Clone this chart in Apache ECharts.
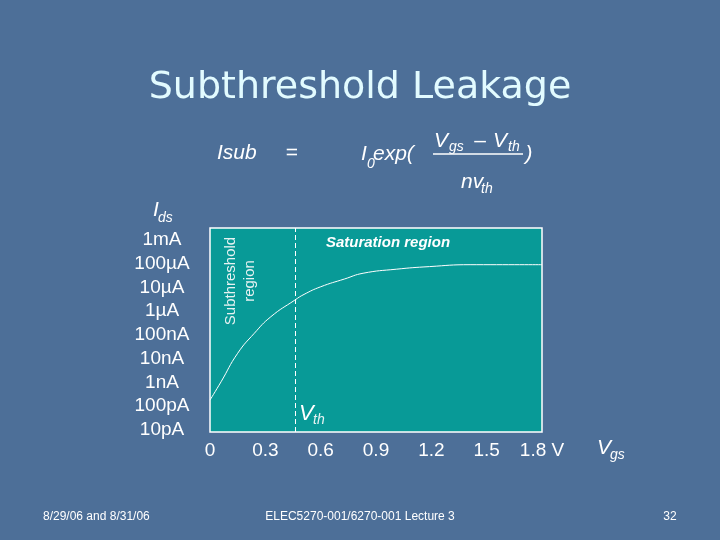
<!DOCTYPE html>
<html>
<head>
<meta charset="utf-8">
<script src="https://cdn.jsdelivr.net/npm/echarts@6/dist/echarts.min.js"></script>
<style>
html,body{margin:0;padding:0;background:#4d6f98;}
#chart{width:720px;height:540px;}
</style>
</head>
<body>
<div id="chart"></div>
<script>
// Gate voltage (V) sampled along the curve
const vgsValues = [0, 0.06, 0.15, 0.24, 0.33, 0.46, 0.51, 0.6, 0.73, 0.83, 1.01, 1.19, 1.41, 1.8];
// log10 of drain current (A)
const logIdsValues = [-9.74, -8.97, -7.77, -6.93, -6.23, -5.53, -5.29, -4.97, -4.64, -4.40, -4.23, -4.12, -4.04, -4.04];
const xTickLabels = ['0', '0.3', '0.6', '0.9', '1.2', '1.5', '1.8 V'];
const yTickLabels = ['10pA', '100pA', '1nA', '10nA', '100nA', '1µA', '10µA', '100µA', '1mA'];
const vthValue = 0.46;

const chart = echarts.init(document.getElementById('chart'));
const SANS = 'Liberation Sans, Arial, sans-serif';

function txt(text, x, y, font, opts) {
  opts = opts || {};
  return {
    type: 'text', x: x, y: y, rotation: opts.rotation || 0, silent: true, z: 100,
    style: Object.assign({
      text: text, font: font, fill: opts.fill || '#ffffff',
      align: opts.align || 'center', verticalAlign: opts.va || 'middle'
    }, opts.style || {})
  };
}

const graphics = [
  // title
  txt('Subthreshold Leakage', 360, 88, '38px "DejaVu Sans", Verdana, sans-serif', {
    fill: '#e2fbff',
    style: {shadowColor: 'rgba(25,35,60,0.85)', shadowOffsetX: 2, shadowOffsetY: 2, shadowBlur: 1}
  }),
  // formula
  txt('Isub', 217, 153, 'italic 21px ' + SANS, {align: 'left'}),
  txt('=', 292, 153, '21px ' + SANS),
  txt('I', 361, 154, 'italic 21px ' + SANS, {align: 'left'}),
  txt('0', 367, 164, 'italic 14px ' + SANS, {align: 'left'}),
  txt('exp(', 373, 154, 'italic 21px ' + SANS, {align: 'left'}),
  txt('V', 434, 141, 'italic 21px ' + SANS, {align: 'left'}),
  txt('gs', 449, 147, 'italic 14px ' + SANS, {align: 'left'}),
  txt('–', 480, 141, '21px ' + SANS),
  txt('V', 493, 141, 'italic 21px ' + SANS, {align: 'left'}),
  txt('th', 508, 147, 'italic 14px ' + SANS, {align: 'left'}),
  {type: 'line', silent: true, z: 100, shape: {x1: 433, y1: 154, x2: 523, y2: 154}, style: {stroke: '#ffffff', lineWidth: 1.5}},
  txt('nv', 461, 182, 'italic 21px ' + SANS, {align: 'left'}),
  txt('th', 481, 189, 'italic 14px ' + SANS, {align: 'left'}),
  txt(')', 529, 154, 'italic 21px ' + SANS),
  // axis titles
  txt('I', 153, 210, 'italic 21px ' + SANS, {align: 'left'}),
  txt('ds', 158, 218, 'italic 14px ' + SANS, {align: 'left'}),
  txt('V', 597, 448, 'italic 21px ' + SANS, {align: 'left'}),
  txt('gs', 610, 455, 'italic 14px ' + SANS, {align: 'left'}),
  // annotations inside plot
  txt('Subthreshold\nregion', 240, 281, '15px ' + SANS, {rotation: Math.PI / 2, fill: '#e6f2f2', style: {lineHeight: 19}}),
  txt('Saturation region', 388, 243, 'italic bold 15px ' + SANS),
  txt('V', 299, 414, 'italic 22px ' + SANS, {align: 'left'}),
  txt('th', 313, 420, 'italic 14px ' + SANS, {align: 'left', fill: '#e6f2f2'}),
  // footer
  txt('8/29/06 and 8/31/06', 43, 517, '12px ' + SANS, {align: 'left'}),
  txt('ELEC5270-001/6270-001 Lecture 3', 360, 517, '12px ' + SANS),
  txt('32', 670, 517, '12px ' + SANS)
];

const option = {
  backgroundColor: '#4d6f98',
  animation: false,
  grid: [
    {left: 210, top: 228, width: 332, height: 204, show: true, backgroundColor: '#089a97', borderColor: '#ffffff', borderWidth: 1.5},
    {left: 210, top: 240, width: 332, height: 190, show: false}
  ],
  xAxis: [
    {
      gridIndex: 0, type: 'value', min: 0, max: 1.8, interval: 0.3,
      axisLine: {show: false}, axisTick: {show: false}, splitLine: {show: false},
      axisLabel: {
        color: '#ffffff', fontSize: 19, fontFamily: SANS, margin: 9,
        showMinLabel: true, showMaxLabel: true,
        formatter: function (v) { return xTickLabels[Math.round(v / 0.3)]; }
      }
    },
    {gridIndex: 1, type: 'value', min: 0, max: 1.8, show: false}
  ],
  yAxis: [
    {gridIndex: 0, type: 'value', min: -11.084, max: -2.495, show: false},
    {
      gridIndex: 1, type: 'value', min: -11, max: -3, interval: 1,
      axisLine: {show: false}, axisTick: {show: false}, splitLine: {show: false},
      axisLabel: {
        color: '#ffffff', fontSize: 19, fontFamily: SANS, margin: 48, align: 'center',
        showMinLabel: true, showMaxLabel: true,
        formatter: function (v) { return yTickLabels[Math.round(v + 11)]; }
      }
    }
  ],
  series: [{
    type: 'line', xAxisIndex: 0, yAxisIndex: 0,
    data: vgsValues.map(function (v, i) { return [v, logIdsValues[i]]; }),
    smooth: 0.5, showSymbol: false, silent: true,
    lineStyle: {color: '#ffffff', width: 1},
    markLine: {
      silent: true, symbol: 'none', label: {show: false},
      lineStyle: {color: '#ffffff', type: [5, 3], width: 1},
      data: [{xAxis: vthValue}]
    }
  }],
  graphic: graphics
};
chart.setOption(option);
</script>
</body>
</html>
